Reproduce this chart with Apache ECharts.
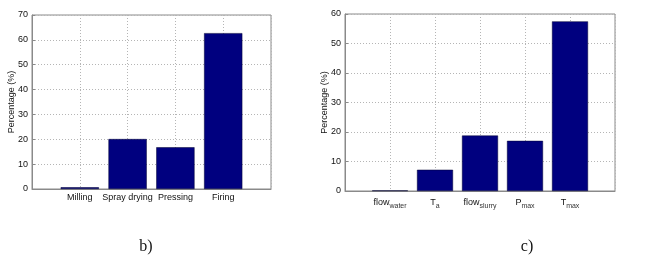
<!DOCTYPE html>
<html>
<head>
<meta charset="utf-8">
<script src="https://cdn.jsdelivr.net/npm/echarts@6/dist/echarts.min.js"></script>
<style>html,body{margin:0;padding:0;background:#fff;}#c{width:646px;height:265px;}</style>
</head>
<body>
<div id="c"></div>
<script>
// Chart b)
const catsB = ["", "Milling", "Spray drying", "Pressing", "Firing", ""];
const valsB = [null, 0.7, 20.1, 16.8, 62.7, null];
const ticksB = [0, 70, 10];
// Chart c)
const catsC = ["", "flow|water", "T|a", "flow|slurry", "P|max", "T|max", ""];
const valsC = [null, 0.2, 7.2, 18.8, 17.0, 57.5, null];
const ticksC = [0, 60, 10];
const yName = "Percentage (%)";
const captions = ["b)", "c)"];

const font = "Liberation Sans";
const gridLine = {show: true, lineStyle: {color: '#b5b5b5', type: [1, 2], width: 1}};
const barColor = '#00007f';

function subLabel(v) {
  if (!v) return '';
  const p = v.split('|');
  return '{m|' + p[0] + '}{s|' + p[1] + '}';
}

const chart = echarts.init(document.getElementById('c'), null, {renderer: 'canvas'});
chart.setOption({
  animation: false,
  backgroundColor: '#fff',
  grid: [
    {left: 32, top: 15, width: 239, height: 174, show: true, borderColor: '#8a8a8a', borderWidth: 1, backgroundColor: 'transparent'},
    {left: 345, top: 14, width: 270, height: 177, show: true, borderColor: '#8a8a8a', borderWidth: 1, backgroundColor: 'transparent'}
  ],
  xAxis: [
    {
      type: 'category', gridIndex: 0, data: catsB, boundaryGap: false,
      axisLine: {lineStyle: {color: '#8a8a8a'}},
      axisTick: {show: false},
      splitLine: gridLine,
      axisLabel: {interval: 0, margin: 4, fontFamily: font, fontSize: 9, color: '#111'}
    },
    {
      type: 'category', gridIndex: 1, data: catsC, boundaryGap: false,
      axisLine: {lineStyle: {color: '#8a8a8a'}},
      axisTick: {show: false},
      splitLine: gridLine,
      axisLabel: {
        interval: 0, margin: 4, color: '#111',
        formatter: subLabel,
        rich: {
          m: {fontFamily: font, fontSize: 9, color: '#111'},
          s: {fontFamily: font, fontSize: 7, color: '#333', padding: [8, 0, 0, 0]}
        }
      }
    }
  ],
  yAxis: [
    {
      type: 'value', gridIndex: 0, min: ticksB[0], max: ticksB[1], interval: ticksB[2],
      name: yName, nameLocation: 'middle', nameGap: 16, nameRotate: 90, nameMoveOverlap: false,
      nameTextStyle: {fontFamily: font, fontSize: 9, color: '#111'},
      axisLine: {show: true, lineStyle: {color: '#8a8a8a'}},
      axisTick: {show: true, inside: true, length: 3, lineStyle: {color: '#8a8a8a'}},
      splitLine: gridLine,
      axisLabel: {margin: 4, fontFamily: font, fontSize: 9, color: '#111'}
    },
    {
      type: 'value', gridIndex: 1, min: ticksC[0], max: ticksC[1], interval: ticksC[2],
      name: yName, nameLocation: 'middle', nameGap: 16, nameRotate: 90, nameMoveOverlap: false,
      nameTextStyle: {fontFamily: font, fontSize: 9, color: '#111'},
      axisLine: {show: true, lineStyle: {color: '#8a8a8a'}},
      axisTick: {show: true, inside: true, length: 3, lineStyle: {color: '#8a8a8a'}},
      splitLine: gridLine,
      axisLabel: {margin: 4, fontFamily: font, fontSize: 9, color: '#111'}
    }
  ],
  series: [
    {type: 'bar', xAxisIndex: 0, yAxisIndex: 0, data: valsB, barWidth: '80%',
      itemStyle: {color: barColor, borderColor: '#000033', borderWidth: 0.5}},
    {type: 'bar', xAxisIndex: 1, yAxisIndex: 1, data: valsC, barWidth: '80%',
      itemStyle: {color: barColor, borderColor: '#000033', borderWidth: 0.5}}
  ],
  graphic: [
    {type: 'text', x: 146, y: 247, style: {text: captions[0], font: '16px "Liberation Serif"', fill: '#111', align: 'center', verticalAlign: 'middle'}},
    {type: 'text', x: 527, y: 247, style: {text: captions[1], font: '16px "Liberation Serif"', fill: '#111', align: 'center', verticalAlign: 'middle'}}
  ]
});
</script>
</body>
</html>
